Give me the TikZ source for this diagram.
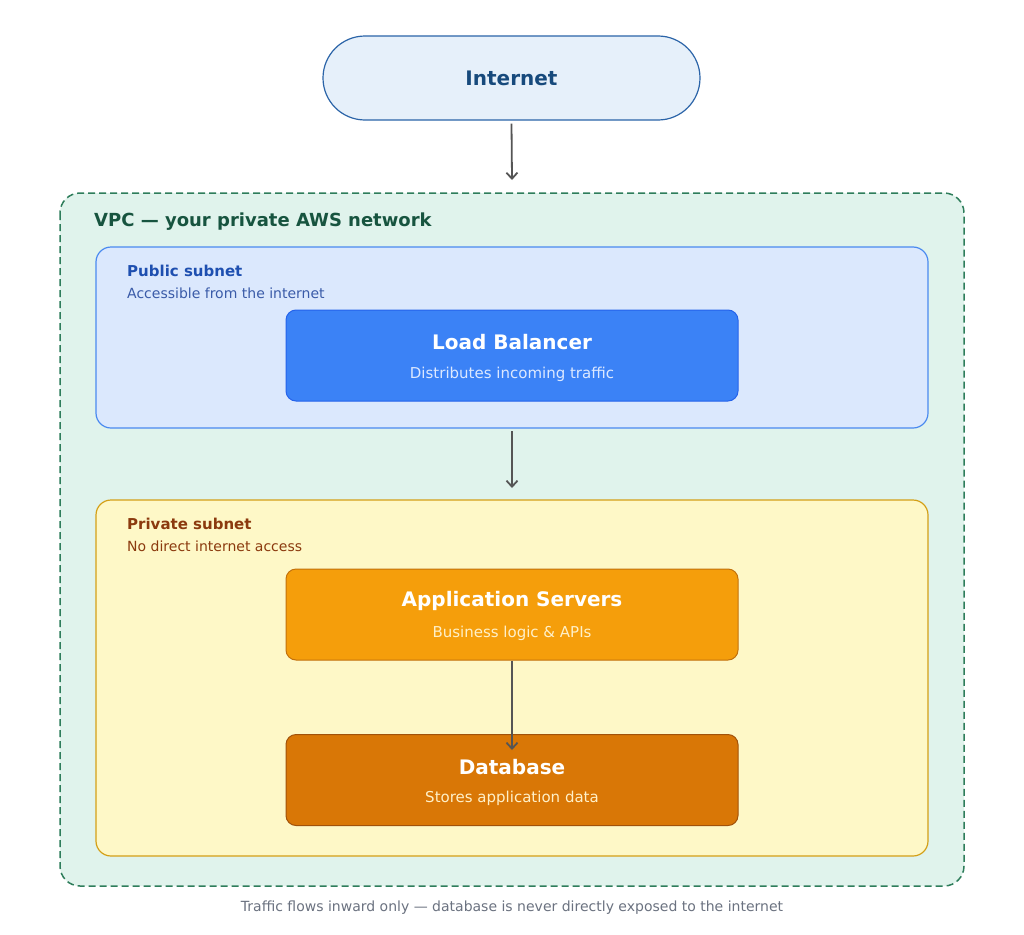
\documentclass[tikz,border=0pt]{standalone}
\usepackage{fontspec}
\setmainfont{DejaVu Sans}
\usetikzlibrary{arrows.meta}
\definecolor{inetfill}{HTML}{E6F0FA}\definecolor{inetdraw}{HTML}{2B64A8}\definecolor{inettext}{HTML}{174A7C}
\definecolor{vpcfill}{HTML}{E0F3EC}\definecolor{vpcdraw}{HTML}{2E7D5B}\definecolor{vpctext}{HTML}{17543F}
\definecolor{pubfill}{HTML}{DBE8FD}\definecolor{pubdraw}{HTML}{4A8AF0}\definecolor{pubtitle}{HTML}{1E4FB0}\definecolor{pubsub}{HTML}{3A5BA8}
\definecolor{lbfill}{HTML}{3B82F6}\definecolor{lbdraw}{HTML}{2563EB}\definecolor{lbsub}{HTML}{DCE8FF}
\definecolor{privfill}{HTML}{FEF8C7}\definecolor{privdraw}{HTML}{D4A017}\definecolor{privtext}{HTML}{8B3A0E}
\definecolor{appfill}{HTML}{F59E0B}\definecolor{appdraw}{HTML}{C2710C}\definecolor{appsub}{HTML}{FFF0C8}
\definecolor{dbfill}{HTML}{D97706}\definecolor{dbdraw}{HTML}{A1520A}
\definecolor{arrowc}{HTML}{555555}\definecolor{capc}{HTML}{6B7280}
\tikzset{
 svc/.style={rounded corners=10pt,line width=1pt,minimum width=452pt,minimum height=91pt,inner sep=0pt},
 ttl/.style={font=\fontsize{20}{24}\selectfont\bfseries,text=white},
 flow/.style={-{Stealth[length=9pt,width=9pt,open]},draw=arrowc,line width=1.8pt,-{Straight Barb[length=6pt,width=11pt]}},
 lab/.style={anchor=west,inner sep=0pt},
}
\begin{document}
\begin{tikzpicture}[x=1pt,y=-1pt]
\useasboundingbox (0,0) rectangle (1024,934);
\fill[white] (0,0) rectangle (1024,934);
\node[draw=inetdraw,fill=inetfill,line width=1.2pt,rounded corners=42pt,minimum width=377pt,minimum height=84pt,inner sep=0pt,font=\fontsize{20}{24}\selectfont\bfseries,text=inettext] (inet) at (511.5,78) {Internet};
\draw[draw=vpcdraw,fill=vpcfill,dashed,dash pattern=on 7pt off 4pt,line width=1.5pt,rounded corners=20pt] (60,193) rectangle (964,886);
\node[lab,font=\fontsize{18}{22}\selectfont\bfseries,text=vpctext] (vpct) at (94,222) {VPC — your private AWS network};
\draw[draw=pubdraw,fill=pubfill,line width=1.2pt,rounded corners=15pt] (96,247) rectangle (928,428);
\coordinate (pubbot) at (512,431);
\node[lab,font=\fontsize{15}{18}\selectfont\bfseries,text=pubtitle] (pubt) at (127,271) {Public subnet};
\node[lab,font=\fontsize{14}{17}\selectfont,text=pubsub] (pubs) at (127,293) {Accessible from the internet};
\node[svc,draw=lbdraw,fill=lbfill] (lb) at (512,355.5) {};
\node[ttl] at (512,342) {Load Balancer};
\node[font=\fontsize{15}{18}\selectfont,text=lbsub] at (512,374) {Distributes incoming traffic};
\draw[draw=privdraw,fill=privfill,line width=1.2pt,rounded corners=15pt] (96,500) rectangle (928,856);
\coordinate (privtop) at (512,488);
\node[lab,font=\fontsize{15}{18}\selectfont\bfseries,text=privtext] (privt) at (127,524) {Private subnet};
\node[lab,font=\fontsize{14}{17}\selectfont,text=privtext] (privs) at (127,546) {No direct internet access};
\node[svc,draw=appdraw,fill=appfill] (app) at (512,614.5) {};
\node[ttl] at (512,601) {Application Servers};
\node[font=\fontsize{15}{18}\selectfont,text=appsub] at (512,633) {Business logic \& APIs};
\node[svc,draw=dbdraw,fill=dbfill] (db) at (512,780) {};
\node[ttl] at (512,767) {Database};
\node[font=\fontsize{15}{18}\selectfont,text=appsub] at (512,798) {Stores application data};
\coordinate (vpctop) at (512,180);
\draw[flow] (inet.south) ++(0,3) -- (vpctop);
\draw[flow] (pubbot) -- (privtop);
\draw[flow] (app.south) -- ([yshift=-16pt]db.north);
\node[font=\fontsize{14}{17}\selectfont,text=capc] (cap) at (512,908) {Traffic flows inward only — database is never directly exposed to the internet};
\end{tikzpicture}
\end{document}
